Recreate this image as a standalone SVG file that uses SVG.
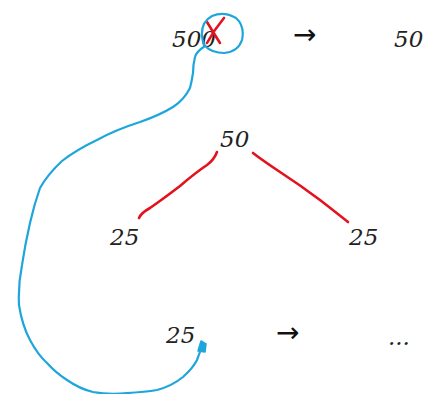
<svg xmlns="http://www.w3.org/2000/svg" width="426" height="394" viewBox="0 0 426 394">
<style>
.t{font-family:"DejaVu Serif","Liberation Serif",serif;font-style:italic;font-size:23px;fill:#222}
.a{font-family:"Noto Sans","DejaVu Sans",sans-serif;font-size:28px;fill:#111}
.red{fill:none;stroke:#e3121d;stroke-width:2.6;stroke-linecap:round;stroke-linejoin:round}
.blue{fill:none;stroke:#1ea6dc;stroke-width:2.2;stroke-linecap:round;stroke-linejoin:round}
</style>
<rect width="426" height="394" fill="#fff"/>
<g id="n500"><text class="t" x="172" y="47">500</text></g>
<g id="arrow1"><text class="a" x="293" y="44">→</text></g>
<g id="n50top"><text class="t" x="394" y="47">50</text></g>
<g id="n50"><text class="t" x="220" y="147">50</text></g>
<g id="n25l"><text class="t" x="110" y="245">25</text></g>
<g id="n25r"><text class="t" x="349" y="245">25</text></g>
<g id="n25b"><text class="t" x="166" y="343">25</text></g>
<g id="arrow2"><text class="a" x="276" y="342">→</text></g>
<g id="dots"><text class="t" x="388" y="345">...</text></g>
<g id="connectors">
<path class="red" d="M207,22 Q213,32 220,43 M224,18 Q214,30 207,43"/>
<path class="red" d="M217,152 Q214,160 207,165 Q195,173 180,186 Q163,199 150,208 Q141,213 139,218"/>
<path class="red" d="M253,153 Q262,160 280,172 Q300,185 320,200 Q338,214 348,222"/>
<path class="blue" d="M205,46 Q212,53 224,53 Q238,52 242,40 Q245,26 236,18 Q224,11 212,16 Q201,22 202,36 Q203,44 205,46 Q196,52 195,57 Q193,65 193,73 Q192,80 190,88 Q184,100 173,107 Q160,115 140,122 Q115,130 97,140 Q76,150 62,161 Q48,174 40,188 Q34,205 30,223 Q25,245 22,265 Q18,285 19,305 Q22,325 30,340 Q38,355 47,363 Q56,373 67,380 Q80,389 93,392 Q110,395 127,393 Q145,392 157,390 Q172,386 183,377 Q193,368 197,360 Q200,352 202,346"/>
<path fill="#1ea6dc" stroke="#1ea6dc" stroke-width="1.5" stroke-linejoin="round" d="M201,341 L206,344 L205,352 L198,351 Z"/>
</g>
</svg>
